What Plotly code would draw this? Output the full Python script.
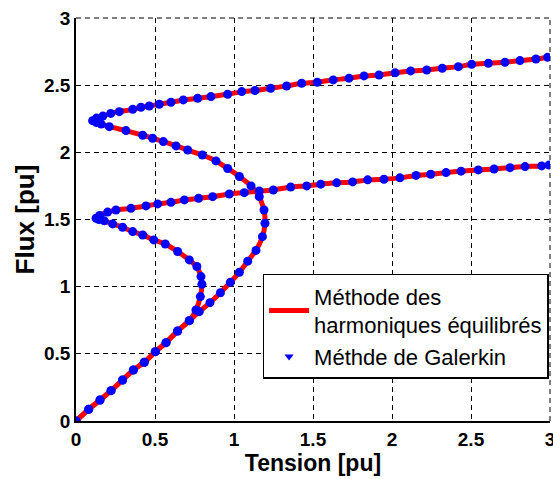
import plotly.graph_objects as go

# Shared branch from the origin (both solutions)
shared_x = [0.0, 0.08, 0.152, 0.222, 0.295, 0.363, 0.432, 0.502, 0.57, 0.643, 0.717]
shared_y = [0.0, 0.087, 0.156, 0.226, 0.305, 0.38, 0.437, 0.516, 0.583, 0.67, 0.747]

# Lower S-curve
lowS_x = [0.759, 0.787, 0.797, 0.791, 0.765, 0.717, 0.643, 0.565, 0.492, 0.422, 0.359, 0.295,
          0.232, 0.179, 0.145, 0.127, 0.15, 0.2, 0.253, 0.348, 0.443, 0.517, 0.601, 0.686,
          0.776, 0.865, 0.97, 1.065, 1.16, 1.249, 1.359, 1.46, 1.549, 1.65, 1.751, 1.846,
          1.949, 2.05, 2.152, 2.245, 2.342, 2.437, 2.546, 2.646, 2.747, 2.842, 2.947, 2.995]
lowS_y = [0.826, 0.926, 1.018, 1.075, 1.15, 1.199, 1.262, 1.318, 1.348, 1.385, 1.41, 1.442,
          1.467, 1.49, 1.50, 1.509, 1.53, 1.555, 1.571, 1.583, 1.601, 1.616, 1.628, 1.646,
          1.658, 1.67, 1.69, 1.70, 1.712, 1.72, 1.742, 1.75, 1.763, 1.773, 1.78, 1.795,
          1.80, 1.81, 1.828, 1.837, 1.849, 1.86, 1.869, 1.876, 1.886, 1.894, 1.899, 1.906]

# Upper S-curve
upS_x = [0.78, 0.848, 0.914, 0.977, 1.034, 1.087, 1.139, 1.18, 1.196, 1.19, 1.16, 1.108,
         1.034, 0.96, 0.886, 0.80, 0.707, 0.633, 0.553, 0.485, 0.422, 0.316, 0.211, 0.16,
         0.13, 0.105, 0.13, 0.17, 0.22, 0.274, 0.359, 0.411, 0.464, 0.527, 0.601, 0.679,
         0.77, 0.854, 0.96, 1.049, 1.133, 1.232, 1.333, 1.428, 1.527, 1.628, 1.728, 1.823,
         1.918, 2.02, 2.118, 2.22, 2.318, 2.42, 2.504, 2.61, 2.715, 2.81, 2.911, 2.985]
upS_y = [0.814, 0.881, 0.955, 1.033, 1.107, 1.19, 1.27, 1.372, 1.472, 1.571, 1.67, 1.75,
         1.82, 1.88, 1.936, 1.98, 2.017, 2.048, 2.08, 2.105, 2.127, 2.162, 2.191, 2.21,
         2.222, 2.236, 2.255, 2.27, 2.29, 2.303, 2.32, 2.336, 2.345, 2.358, 2.373, 2.39,
         2.403, 2.415, 2.432, 2.452, 2.46, 2.477, 2.494, 2.514, 2.522, 2.539, 2.552, 2.569,
         2.576, 2.592, 2.606, 2.613, 2.626, 2.638, 2.655, 2.663, 2.671, 2.683, 2.695, 2.708]

tick_vals = [0, 0.5, 1, 1.5, 2, 2.5, 3]
tick_text = ["0", "0.5", "1", "1.5", "2", "2.5", "3"]

curveA_x = shared_x + lowS_x
curveA_y = shared_y + lowS_y
curveB_x = shared_x + upS_x
curveB_y = shared_y + upS_y

RED = "#ff0000"
BLUE = "#0000ff"
FONT = "Liberation Sans, Arial, sans-serif"
DASH = "5px,4px"

fig = go.Figure()
for i, (cx, cy) in enumerate([(curveA_x, curveA_y), (curveB_x, curveB_y)]):
    fig.add_trace(go.Scatter(
        x=cx, y=cy, mode="lines",
        line=dict(color=RED, width=5, shape="spline", smoothing=0.5),
        name="Méthode des<br>harmoniques équilibrés",
        legendgroup="hb", showlegend=(i == 0)))
for cx, cy in [(curveA_x, curveA_y), (curveB_x, curveB_y)]:
    fig.add_trace(go.Scatter(
        x=cx, y=cy, mode="markers",
        marker=dict(color=BLUE, size=9, symbol="circle"),
        showlegend=False, legendgroup="gal"))
fig.add_trace(go.Scatter(
    x=[None], y=[None], mode="markers",
    marker=dict(color=BLUE, size=8, symbol="triangle-down"),
    name="Méthde de Galerkin", legendgroup="gal"))

axis_common = dict(
    range=[0, 3], tickvals=tick_vals, ticktext=tick_text,
    showgrid=True, gridcolor="black", gridwidth=1, griddash=DASH,
    showline=True, linecolor="black", linewidth=1.5, mirror=False,
    ticks="", zeroline=False, ticklabeloverflow="allow", automargin=False,
    tickfont=dict(family=FONT, size=19, color="black", weight="bold"),
)

fig.update_layout(
    width=553, height=479,
    margin=dict(l=76, r=3, t=18, b=58),
    paper_bgcolor="white", plot_bgcolor="white",
    xaxis=dict(**axis_common,
               title=dict(text="Tension [pu]", standoff=2,
                          font=dict(family=FONT, size=23, color="black", weight="bold"))),
    yaxis=dict(**axis_common,
               title=dict(text="Flux [pu]", standoff=2,
                          font=dict(family=FONT, size=26, color="black", weight="bold"))),
    legend=dict(x=0.997, xanchor="right", y=0.365, yanchor="top",
                bgcolor="white", bordercolor="black", borderwidth=1.5,
                font=dict(family=FONT, size=22, color="black"),
                tracegroupgap=0, itemwidth=40),
    shapes=[
        dict(type="line", xref="paper", yref="paper", x0=0, x1=1, y0=1, y1=1,
             line=dict(color="black", width=1, dash=DASH), layer="below"),
        dict(type="line", xref="paper", yref="paper", x0=1, x1=1, y0=0, y1=1,
             line=dict(color="black", width=1, dash=DASH), layer="below"),
    ],
    showlegend=True,
)

fig.write_html("out.html")
